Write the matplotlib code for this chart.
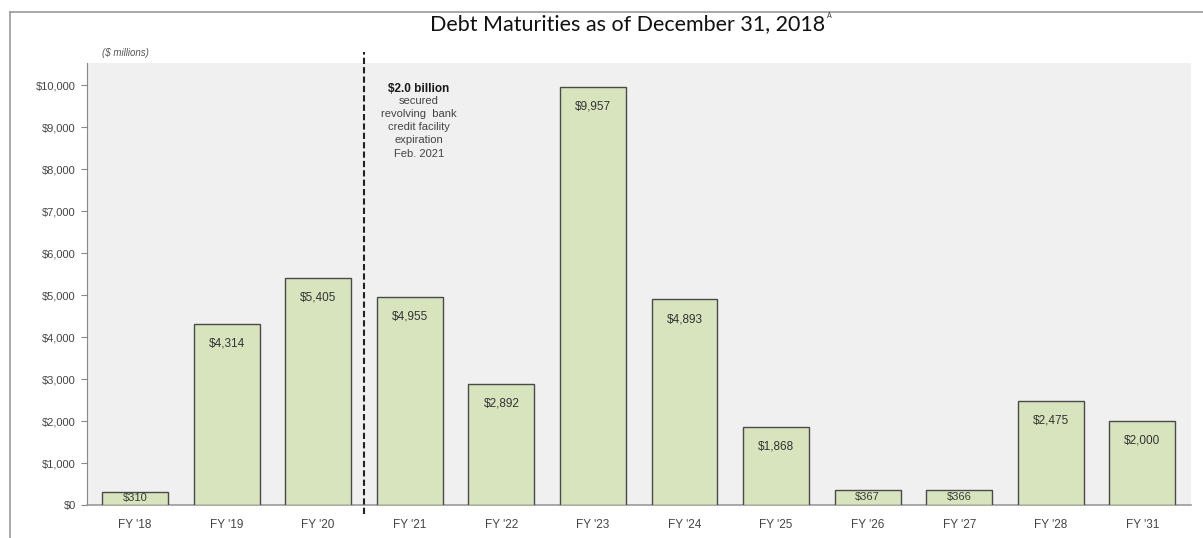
import matplotlib
matplotlib.use("Agg")
import matplotlib.pyplot as plt
from matplotlib.lines import Line2D

categories = ["FY '18", "FY '19", "FY '20", "FY '21", "FY '22", "FY '23",
              "FY '24", "FY '25", "FY '26", "FY '27", "FY '28", "FY '31"]
values = [310, 4314, 5405, 4955, 2892, 9957, 4893, 1868, 367, 366, 2475, 2000]
value_labels = ["$310", "$4,314", "$5,405", "$4,955", "$2,892", "$9,957",
                "$4,893", "$1,868", "$367", "$366", "$2,475", "$2,000"]
yticks = [0, 1000, 2000, 3000, 4000, 5000, 6000, 7000, 8000, 9000, 10000]
ytick_labels = ["$0", "$1,000", "$2,000", "$3,000", "$4,000", "$5,000",
                "$6,000", "$7,000", "$8,000", "$9,000", "$10,000"]
title = "Debt Maturities as of December 31, 2018"
note_head = "$2.0 billion"
note_body = "secured\nrevolving  bank\ncredit facility\nexpiration\nFeb. 2021"

W, H = 1203, 538
fig = plt.figure(figsize=(W / 100, H / 100), dpi=100)
fig.patch.set_facecolor("white")

# plot area in pixels
L, R, T, B = 87, 1191, 63, 505
ax = fig.add_axes([L / W, (H - B) / H, (R - L) / W, (B - T) / H])
ax.set_facecolor("#f0f0f0")

x = list(range(len(categories)))
ax.bar(x, values, width=0.72, color="#d7e4bd", edgecolor="#4a4a4a",
       linewidth=1.0, zorder=3)

ax.set_xlim(-0.524, 11.53)
ax.set_ylim(0, 10524)

ax.set_yticks(yticks)
ax.set_yticklabels(ytick_labels, fontsize=8, color="#444444",
                   family="Liberation Sans")
ax.set_xticks(x)
ax.set_xticklabels(categories, fontsize=8.5, color="#444444",
                   family="Liberation Sans")
ax.tick_params(axis="x", length=0, pad=10)
ax.tick_params(axis="y", length=4, color="#888888", pad=4)

for s in ["top", "right"]:
    ax.spines[s].set_visible(False)
ax.spines["left"].set_color("#888888")
ax.spines["bottom"].set_color("#9a9a9a")
ax.spines["bottom"].set_linewidth(1.2)

for xi, v, lab in zip(x, values, value_labels):
    if v < 500:
        ax.text(xi, v / 2, lab, ha="center", va="center", fontsize=8,
                color="#3a3a3a", family="Liberation Sans", zorder=4)
    else:
        ax.annotate(lab, (xi, v), xytext=(0, -10), textcoords="offset points",
                    ha="center", va="top", fontsize=8.5, color="#333333",
                    family="Liberation Sans", zorder=4)

# dashed divider between FY'20 and FY'21
ax.plot([2.5, 2.5], [-210, 10790], color="#222222", linestyle=(0, (3, 1.5)),
        linewidth=1.5, clip_on=False, zorder=5)

ax.text(3.1, 10040, note_head, ha="center", va="top", fontsize=8.5,
        color="#1a1a1a", family="Liberation Sans", fontweight="bold")
ax.text(3.1, 9730, note_body, ha="center", va="top", fontsize=8,
        color="#444444", family="Liberation Sans", linespacing=1.38)

ax.text(-0.36, 10760, "($ millions)", ha="left", va="center", fontsize=7,
        style="italic", color="#555555", family="Liberation Sans")

# title
fig.text(628 / W, 1 - 24 / H, title, ha="center", va="center",
         fontsize=15.5, color="#111111", family="Lato")
fig.text(827 / W, 1 - 16 / H, "A", ha="left", va="center",
         fontsize=5, color="#333333", family="Lato")

# outer frame
fig.add_artist(Line2D([10 / W, 1], [1 - 12 / H, 1 - 12 / H],
                      color="#999999", linewidth=1.2, transform=fig.transFigure))
fig.add_artist(Line2D([10 / W, 10 / W], [0, 1 - 12 / H],
                      color="#999999", linewidth=1.2, transform=fig.transFigure))

fig.savefig("out.png", dpi=100)
